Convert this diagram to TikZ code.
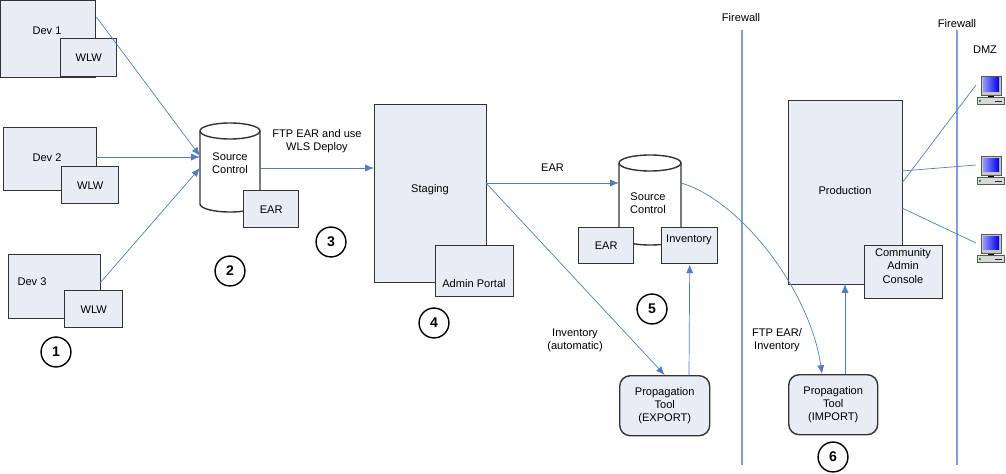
\documentclass[tikz,border=0pt]{standalone}
\usepackage{fontspec}
\setmainfont{Liberation Sans}
\usetikzlibrary{arrows.meta,positioning}
\definecolor{boxfill}{HTML}{E8ECF5}
\definecolor{linkblue}{HTML}{4F7EC0}
\definecolor{fwblue}{HTML}{7FA0D4}
\tikzset{
  box/.style={draw=black!80, fill=boxfill, thick, align=center, inner sep=0pt},
  tool/.style={box, rounded corners=6pt},
  stepno/.style={circle, draw, thick, fill=white, inner sep=0pt, minimum size=17pt, font=\fontsize{8}{9}\selectfont\bfseries},
  link/.style={draw=linkblue, -{Latex[length=5pt,width=4pt]}},
  wire/.style={draw=linkblue},
  lbl/.style={align=center, font=\fontsize{6.3}{7.5}\selectfont},
}
\newcommand{\boxat}[5]{\node[box, minimum width=#4*0.02cm, minimum height=#5*0.02cm, anchor=north west] (#1) at (#2,#3) {};}
% cylinder: name, left, top, width, height
\newcommand{\cylat}[5]{%
  \pgfmathsetmacro\cylR{#2+#4}\pgfmathsetmacro\cylB{#3+#5}%
  \pgfmathsetmacro\cylX{#2+#4/2}\pgfmathsetmacro\cylRX{#4/2}%
  \fill[white] (#2,#3+8) rectangle (\cylR,\cylB-8);
  \fill[white] (\cylX,\cylB-8) ellipse[x radius=\cylRX, y radius=8];
  \draw[black!80, thick] (#2,#3+8) -- (#2,\cylB-8) arc[start angle=180, end angle=0, x radius=\cylRX, y radius=8] -- (\cylR,#3+8);
  \draw[black!80, thick, fill=white] (\cylX,#3+8) ellipse[x radius=\cylRX, y radius=8];
  \node[minimum width=#4*0.02cm, minimum height=#5*0.02cm, inner sep=0pt, anchor=north west] (#1) at (#2,#3) {};}
\begin{document}
\begin{tikzpicture}[x=0.02cm, y=-0.02cm, font=\fontsize{6.3}{7.5}\selectfont]
    \useasboundingbox (0,0) rectangle (1006,473);

    % Developer desktops
    \boxat{dev1}{0}{0}{95}{77}
    \node at (47,31) {Dev 1};
    \boxat{wlw1}{60}{38}{56}{38}
    \node at (wlw1) {WLW};
    \boxat{dev2}{3}{127}{93}{63}
    \node at (47,158) {Dev 2};
    \boxat{wlw2}{61}{166}{57}{37}
    \node at (wlw2) {WLW};
    \boxat{dev3}{8}{254}{92}{64}
    \node at (32,282) {Dev 3};
    \boxat{wlw3}{64}{290}{58}{37}
    \node at (wlw3) {WLW};

    % Source control (dev side)
    \cylat{src}{200}{123}{60}{89}
    \node[lbl] at (230,163) {Source\\Control};
    \boxat{ear1}{243}{190}{55}{37}
    \node at (ear1) {EAR};

    % Staging
    \boxat{stag}{374}{104}{112}{178}
    \node at (430,190) {Staging};
    \boxat{admin}{435}{245}{78}{51}
    \node at (474,284) {Admin Portal};

    % Source control (staging side)
    \cylat{src2}{619}{155}{62}{90}
    \node[lbl] at (648,203) {Source\\Control};
    \boxat{ear2}{578}{227}{55}{36}
    \node at (ear2) {EAR};
    \boxat{inv}{661}{227}{56}{36}
    \node at (689,240) {Inventory};

    % Propagation tools
    \node[tool, minimum width=90*0.02cm, minimum height=60*0.02cm, anchor=north west] (export) at (619,375) {};
    \node[lbl] at (export) {Propagation\\Tool\\(EXPORT)};
    \node[tool, minimum width=89*0.02cm, minimum height=60*0.02cm, anchor=north west] (import) at (788,374) {};
    \node[lbl] at (import) {Propagation\\Tool\\(IMPORT)};

    % Production
    \boxat{prod}{788}{100}{114}{184}
    \node at (845,191) {Production};
    \boxat{cons}{864}{245}{78}{53}
    \node[lbl] at (903,266) {Community\\Admin\\Console};

    % Firewalls
    \coordinate (fw1t) at (742,30);
    \coordinate (fw1b) at (742,465);
    \coordinate (fw2t) at (957,30);
    \coordinate (fw2b) at (957,465);
    \draw[fwblue, line width=0.8pt] (fw1t) -- (fw1b);
    \draw[fwblue, line width=0.8pt] (fw2t) -- (fw2b);
    \node (fwl1) at (741,18) {Firewall};
    \node (fwl2) at (957,24) {Firewall};
    \node (dmz) at (985,50) {DMZ};

    % Client machines
    \foreach \n/\y in {pc1/76, pc2/156, pc3/234} {
        \begin{scope}[shift={(977,\y)}]
            \draw[gray!70!black, fill=gray!45] (4,0) rectangle (24,19);
            \shade[left color=blue!40, right color=blue!90!black] (6,2) rectangle (22,15);
            \draw[gray!70!black, fill=gray!30] (0,21) rectangle (27,28);
            \draw[black] (11,20) -- (17,20);
            \fill[green!70!black] (2,24) rectangle (4,26);
            \draw[gray!30!black] (18,25) -- (25,25);
            \coordinate (\n) at (-1,9);
        \end{scope}
    }

    % Connectors
    \draw[link] (dev1.north east) ++(0,17) -- (src.west |- 0,156);
    \draw[link] (96,157) -- (src.west |- 0,157);
    \draw[link] (100,283) -- (src.west |- 0,168);
    \draw[link] (260,168) -- (stag.west |- 0,168)
        node[lbl, midway, above=5pt] {FTP EAR and use\\WLS Deploy};
    \draw[link] (486,183) -- (src2.west |- 0,183)
        node[midway, above=3pt] {EAR};
    \draw[link] (486,183) -- (export.north |- 0,375);
    \node[lbl] at (575,340) {Inventory\\(automatic)};
    \draw[link] (689,375) -- (inv.south);
    \draw[link] (681,183) .. controls (740,200) and (810,290) .. (822,374);
    \node[lbl] at (777,340) {FTP EAR/\\Inventory};
    \draw[link] (845,374) -- (845,284);
    \draw[wire] (902,183) -- (pc1);
    \draw[wire] (902,171) -- (pc2);
    \draw[wire] (902,208) -- (pc3);

    % Steps
    \node[stepno] (s1) at (56,352) {1};
    \node[stepno] (s2) at (230,271) {2};
    \node[stepno] (s3) at (331,242) {3};
    \node[stepno] (s4) at (434,323) {4};
    \node[stepno] (s5) at (652,309) {5};
    \node[stepno] (s6) at (833,457) {6};
\end{tikzpicture}
\end{document}
